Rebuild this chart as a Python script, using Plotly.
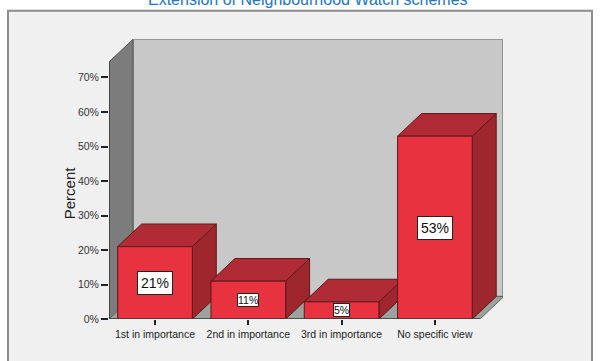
import plotly.graph_objects as go

# Survey responses: share of respondents per priority level
categories = ["1st in importance", "2nd in importance", "3rd in importance", "No specific view"]
percent = [21, 11, 5, 53]
value_labels = ["21%", "11%", "5%", "53%"]
y_ticks = [0, 10, 20, 30, 40, 50, 60, 70]
y_tick_labels = ["0%", "10%", "20%", "30%", "40%", "50%", "60%", "70%"]

W, H = 601, 361
X_MIN, X_MAX = -0.493, 3.730      # category units
Y_MIN, Y_MAX = 0.0, 81.05         # percent
FLOOR_RIGHT = 3.483
WALL_TOP = 74.5
BAR_W = 0.80
DX, DY = 0.257, 6.55              # 3D depth offset in data units

FRONT = "#e8323f"
TOP = "#b02b35"
SIDE = "#9e262d"
EDGE = "#5c1a1c"


def poly(pts):
    return "M " + " L ".join(f"{x},{y}" for x, y in pts) + " Z"


shapes = []
# outer panel
shapes.append(dict(type="rect", xref="paper", yref="paper", layer="below",
                   x0=8 / W, x1=592 / W, y0=-0.02, y1=(H - 11) / H,
                   fillcolor="#f0f0f0", line=dict(color="#8c8c8c", width=2)))
# back wall
shapes.append(dict(type="path", xref="x", yref="y", layer="below",
                   path=poly([(X_MIN + DX, DY), (X_MAX, DY), (X_MAX, Y_MAX), (X_MIN + DX, Y_MAX)]),
                   fillcolor="#c8c8c8", line=dict(color="#808080", width=1.5)))
# left wall
shapes.append(dict(type="path", xref="x", yref="y", layer="below",
                   path=poly([(X_MIN, 0), (X_MIN + DX, DY), (X_MIN + DX, WALL_TOP + DY), (X_MIN, WALL_TOP)]),
                   fillcolor="#7c7c7c", line=dict(color="#555555", width=1)))
# floor
shapes.append(dict(type="path", xref="x", yref="y", layer="below",
                   path=poly([(X_MIN, 0), (FLOOR_RIGHT, 0), (FLOOR_RIGHT + DX, DY), (X_MIN + DX, DY)]),
                   fillcolor="#9aa39c", line=dict(color="#5f6660", width=1)))

# side and top faces of each bar, derived from its value
for i, v in enumerate(percent):
    l, r = i - BAR_W / 2, i + BAR_W / 2
    shapes.append(dict(type="path", xref="x", yref="y", layer="below",
                       path=poly([(r, 0), (r + DX, DY), (r + DX, v + DY), (r, v)]),
                       fillcolor=SIDE, line=dict(color=EDGE, width=1)))
    shapes.append(dict(type="path", xref="x", yref="y", layer="below",
                       path=poly([(l, v), (r, v), (r + DX, v + DY), (l + DX, v + DY)]),
                       fillcolor=TOP, line=dict(color=EDGE, width=1)))

# front edges of axes
shapes.append(dict(type="line", xref="x", yref="y", x0=X_MIN, x1=X_MIN, y0=0, y1=WALL_TOP,
                   line=dict(color="#3a3a3a", width=1.5)))
shapes.append(dict(type="line", xref="x", yref="y", x0=X_MIN, x1=FLOOR_RIGHT, y0=0, y1=0,
                   line=dict(color="#3a3a3a", width=1.5)))

fig = go.Figure()
fig.add_trace(go.Bar(
    x=list(range(len(categories))), y=percent, width=BAR_W,
    marker=dict(color=FRONT, line=dict(color=EDGE, width=1)),
    hoverinfo="skip", showlegend=False,
))

annotations = []
for i, (v, t) in enumerate(zip(percent, value_labels)):
    big = v >= 15
    annotations.append(dict(
        x=i, y=v / 2, xref="x", yref="y", text=t, showarrow=False,
        font=dict(family="Liberation Sans, Arial", size=14 if big else 10.5, color="#111"),
        bgcolor="white", bordercolor="#222", borderwidth=1, borderpad=3 if big else 0,
    ))
annotations.append(dict(
    x=69 / W, y=(H - 196.5) / H, xref="paper", yref="paper", text="Percent",
    textangle=-90, showarrow=False, xanchor="center", yanchor="middle",
    font=dict(family="Liberation Sans, Arial", size=15, color="#222"),
))
annotations.append(dict(
    x=308 / W, y=(H + 1) / H, xref="paper", yref="paper",
    text="Extension of Neighbourhood Watch schemes", showarrow=False,
    font=dict(family="Liberation Sans, Arial", size=16, color="#2176c7"),
    xanchor="center", yanchor="middle",
))

fig.update_layout(
    width=W, height=H,
    margin=dict(l=0, r=0, t=0, b=0),
    paper_bgcolor="white",
    plot_bgcolor="rgba(0,0,0,0)",
    shapes=shapes,
    annotations=annotations,
    xaxis=dict(
        domain=[109 / W, 503 / W], range=[X_MIN, X_MAX],
        tickvals=list(range(len(categories))), ticktext=categories,
        ticks="outside", ticklen=5, tickwidth=2, tickcolor="#222",
        showgrid=False, zeroline=False, showline=False, fixedrange=True,
        tickfont=dict(family="Liberation Sans, Arial", size=10.5, color="#222"),
    ),
    yaxis=dict(
        domain=[(H - 324.5) / H, (H - 40) / H], range=[Y_MIN, Y_MAX],
        tickvals=y_ticks, ticktext=y_tick_labels,
        ticks="outside", ticklen=7, tickwidth=2, tickcolor="#222",
        showgrid=False, zeroline=False, showline=False, fixedrange=True,
        tickfont=dict(family="Liberation Sans, Arial", size=10.5, color="#333"),
    ),
)

fig.write_html("out.html")
